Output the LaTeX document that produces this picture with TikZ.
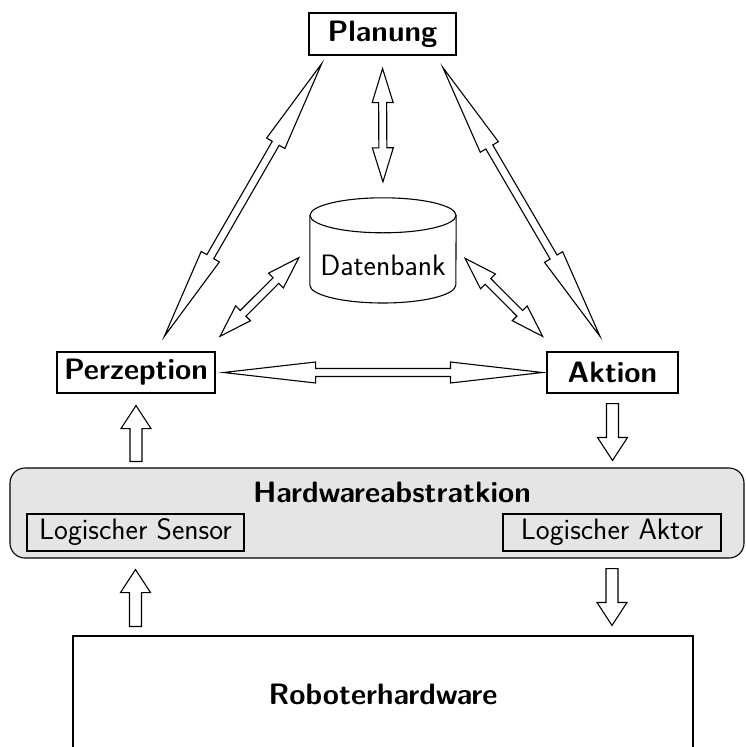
\documentclass[tikz,border=0pt]{standalone}
\usetikzlibrary{calc}

\newcommand\diagfont{\sffamily\fontsize{29.5}{35}\selectfont}

\tikzset{
  % parameters of the hollow block arrows
  gap a/.store in=\arrga, gap b/.store in=\arrgb,
  head len/.store in=\arrhl, head half/.store in=\arrhh,
  shaft half/.store in=\arrsh,
  gap a=0pt, gap b=0pt, head len=92pt, head half=10.5pt, shaft half=4pt,
  ln/.style={line width=1.1pt, draw=black},
  % hollow double-headed block arrow between two anchors
  dblarrow/.style={ln, fill=white, line join=miter, to path={
    ($(\tikztostart)!\arrga!(\tikztotarget)$)
    -- ($(\tikztostart)!\arrga+\arrhl!(\tikztotarget)!\arrhh!90:(\tikztotarget)$)
    -- ($(\tikztostart)!\arrga+\arrhl!(\tikztotarget)!\arrsh!90:(\tikztotarget)$)
    -- ($(\tikztotarget)!\arrgb+\arrhl!(\tikztostart)!\arrsh!-90:(\tikztostart)$)
    -- ($(\tikztotarget)!\arrgb+\arrhl!(\tikztostart)!\arrhh!-90:(\tikztostart)$)
    -- ($(\tikztotarget)!\arrgb!(\tikztostart)$)
    -- ($(\tikztotarget)!\arrgb+\arrhl!(\tikztostart)!\arrhh!90:(\tikztostart)$)
    -- ($(\tikztotarget)!\arrgb+\arrhl!(\tikztostart)!\arrsh!90:(\tikztostart)$)
    -- ($(\tikztostart)!\arrga+\arrhl!(\tikztotarget)!\arrsh!-90:(\tikztotarget)$)
    -- ($(\tikztostart)!\arrga+\arrhl!(\tikztotarget)!\arrhh!-90:(\tikztotarget)$)
    -- cycle}},
  % hollow single-headed block arrow, head at the target
  onearrow/.style={ln, fill=white, line join=miter,
    head len=23pt, head half=15pt, shaft half=6pt, to path={
    ($(\tikztostart)!\arrga!(\tikztotarget)!\arrsh!90:(\tikztotarget)$)
    -- ($(\tikztotarget)!\arrgb+\arrhl!(\tikztostart)!\arrsh!-90:(\tikztostart)$)
    -- ($(\tikztotarget)!\arrgb+\arrhl!(\tikztostart)!\arrhh!-90:(\tikztostart)$)
    -- ($(\tikztotarget)!\arrgb!(\tikztostart)$)
    -- ($(\tikztotarget)!\arrgb+\arrhl!(\tikztostart)!\arrhh!90:(\tikztostart)$)
    -- ($(\tikztotarget)!\arrgb+\arrhl!(\tikztostart)!\arrsh!90:(\tikztostart)$)
    -- ($(\tikztostart)!\arrga!(\tikztotarget)!\arrsh!-90:(\tikztotarget)$)
    -- cycle}},
  box/.style={ln, rectangle, inner sep=0pt, fill=white},
  subbox/.style={ln, rectangle, inner sep=0pt},
  title/.style={font=\diagfont\bfseries},
}

\begin{document}
\begin{tikzpicture}[x=1pt, y=-1pt, font=\diagfont]
  \useasboundingbox (0,0) rectangle (745,747);

  % hardware abstraction layer
  \node[ln, rectangle, rounded corners=15pt, fill=black!10,
        minimum width=734pt, minimum height=90pt] (hw) at (377,513) {};
  \node[title] (hwtitle) at (392,492) {Hardwareabstratkion};
  \node[subbox, minimum width=217pt, minimum height=37pt] (sensor) at (135.5,532.5) {Logischer Sensor};
  \node[subbox, minimum width=218pt, minimum height=37pt] (aktor) at (612,532.5) {Logischer Aktor};

  % robot hardware
  \node[box, title, minimum width=620pt, minimum height=116pt] (robo) at (383,694) {Roboterhardware};

  % the three modules
  \node[box, title, minimum width=147pt, minimum height=42pt] (plan) at (382.5,34) {Planung};
  \node[box, title, minimum width=158pt, minimum height=41pt] (perz) at (136,372.5) {Perzeption};
  \node[box, title, minimum width=131pt, minimum height=41pt] (akt) at (612.5,372.5) {Aktion};

  % database
  \node[minimum width=146pt, minimum height=134pt, inner sep=0pt] (db) at (383,265) {Datenbank};
  \draw[ln] ([yshift=-17.5pt]db.north west) -- ([yshift=-20pt]db.west)
    arc[start angle=180, end angle=360, x radius=73pt, y radius=18pt]
    -- ([yshift=-17.5pt]db.north east);
  \draw[ln] ([yshift=-17.5pt]db.north) ellipse [x radius=73pt, y radius=17.5pt];

  % connections between the modules
  \draw[dblarrow, gap a=17.4pt, gap b=9.3pt] (perz.47) to (plan.201);
  \draw[dblarrow, gap a=13.9pt, gap b=17.4pt] (plan.338) to (akt.100);
  \draw[dblarrow, gap a=8pt, gap b=4pt] (perz.east) to (akt.west);
  \draw[dblarrow, gap a=13pt, gap b=16pt, head len=34pt] (plan.south) to (db.north);
  \draw[dblarrow, gap a=21.5pt, gap b=15.4pt, head len=32.5pt] (perz.17) to (db.166);
  \draw[dblarrow, gap a=12.6pt, gap b=21.3pt, head len=32.5pt] (db.12) to (akt.159);

  % data flow through the abstraction layer
  \draw[onearrow, gap a=6pt, gap b=12pt] (perz.south |- hw.north) to (perz.south);
  \draw[onearrow, gap a=10pt, gap b=7pt] (akt.south) to (akt.south |- hw.north);
  \draw[onearrow, gap a=9pt, gap b=18pt] (sensor.south |- robo.north) to (sensor.south);
  \draw[onearrow, gap a=17pt, gap b=10pt] (aktor.south) to (aktor.south |- robo.north);
\end{tikzpicture}
\end{document}
